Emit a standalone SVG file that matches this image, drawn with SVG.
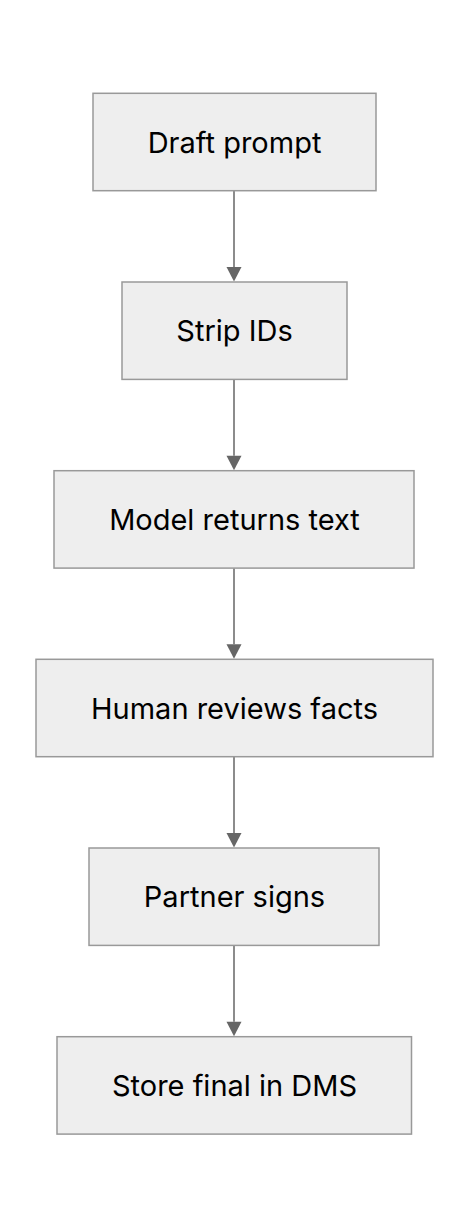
<svg xmlns="http://www.w3.org/2000/svg" width="468" height="1228" viewBox="0 0 468 1228">
<defs>
<style>
.node rect{fill:#eeeeee;stroke:#999999;stroke-width:1.5}
.node text{font-family:Inter,"Liberation Sans",sans-serif;font-size:29px;fill:#000;text-anchor:middle}
.edge{stroke:#666666;stroke-width:1.5;fill:none}
.head{fill:#666666}
</style>
</defs>
<rect width="468" height="1228" fill="#ffffff"/>
<g id="connectors">
<path class="edge" d="M234,191 V267"/>
<polygon class="head" points="226.5,267 241.5,267 234,281.5"/>
<path class="edge" d="M234,379.7 V455.7"/>
<polygon class="head" points="226.5,455.7 241.5,455.7 234,470.2"/>
<path class="edge" d="M234,568.3 V644.3"/>
<polygon class="head" points="226.5,644.3 241.5,644.3 234,658.8"/>
<path class="edge" d="M234,757 V833"/>
<polygon class="head" points="226.5,833 241.5,833 234,847.5"/>
<path class="edge" d="M234,945.7 V1021.7"/>
<polygon class="head" points="226.5,1021.7 241.5,1021.7 234,1036.2"/>
</g>
<g id="n1" class="node"><rect x="93" y="93.3" width="283" height="97.4"/><text x="234.5" y="152.5">Draft prompt</text></g>
<g id="n2" class="node"><rect x="122" y="282" width="225" height="97.4"/><text x="234.5" y="341.2">Strip IDs</text></g>
<g id="n3" class="node"><rect x="54" y="470.7" width="360" height="97.4"/><text x="234.5" y="529.9">Model returns text</text></g>
<g id="n4" class="node"><rect x="36" y="659.3" width="397" height="97.4"/><text x="234.5" y="718.5">Human reviews facts</text></g>
<g id="n5" class="node"><rect x="89" y="848" width="290" height="97.4"/><text x="234.5" y="907.2">Partner signs</text></g>
<g id="n6" class="node"><rect x="57" y="1036.7" width="354.5" height="97.4"/><text x="234.5" y="1095.9">Store final in DMS</text></g>
</svg>
